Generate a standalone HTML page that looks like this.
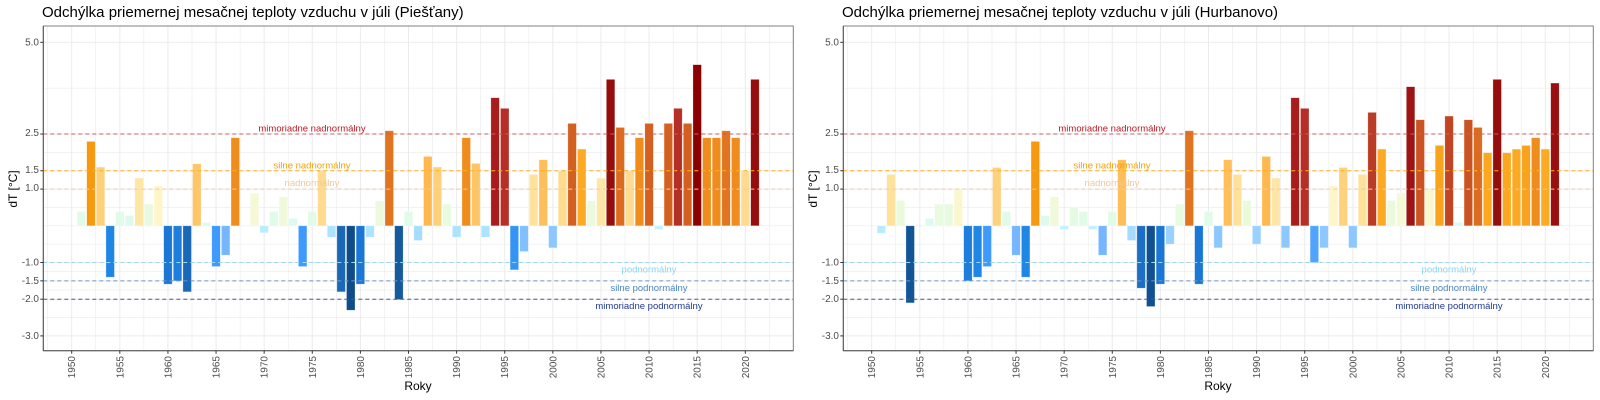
<!DOCTYPE html>
<html><head><meta charset="utf-8"><style>
html,body{margin:0;padding:0;background:#fff;width:1600px;height:400px;overflow:hidden}
svg{display:block;font-family:"Liberation Sans",Arial,sans-serif}
</style></head><body>
<svg id="s" width="1600" height="400" xmlns="http://www.w3.org/2000/svg">
<rect width="1600" height="400" fill="#fff"/>
<g id="p0"></g>
<g id="p1" transform="translate(800,0)"></g>
<!-- static text, left panel -->
<g font-size="15" fill="#000">
<text x="42" y="17">Odchýlka priemernej mesačnej teploty vzduchu v júli (Piešťany)</text>
<text x="842" y="17">Odchýlka priemernej mesačnej teploty vzduchu v júli (Hurbanovo)</text>
</g>
<g font-size="12" fill="#000" text-anchor="middle">
<text x="418" y="390">Roky</text>
<text x="1218" y="390">Roky</text>
<text transform="translate(17,189) rotate(-90)">dT [°C]</text>
<text transform="translate(817,189) rotate(-90)">dT [°C]</text>
</g>
<g font-size="10" fill="#4d4d4d" text-anchor="end">
<text x="39" y="45.5">5.0</text><text x="39" y="136">2.5</text><text x="39" y="173">1.5</text><text x="39" y="191">1.0</text>
<text x="39" y="265.5">-1.0</text><text x="39" y="284">-1.5</text><text x="39" y="302">-2.0</text><text x="39" y="339">-3.0</text>
<text x="839" y="45.5">5.0</text><text x="839" y="136">2.5</text><text x="839" y="173">1.5</text><text x="839" y="191">1.0</text>
<text x="839" y="265.5">-1.0</text><text x="839" y="284">-1.5</text><text x="839" y="302">-2.0</text><text x="839" y="339">-3.0</text>
</g>
<g font-size="10" fill="#4d4d4d" text-anchor="end">
<text transform="translate(75.2,356) rotate(-90)">1950</text>
<text transform="translate(123.3,356) rotate(-90)">1955</text>
<text transform="translate(171.4,356) rotate(-90)">1960</text>
<text transform="translate(219.5,356) rotate(-90)">1965</text>
<text transform="translate(267.6,356) rotate(-90)">1970</text>
<text transform="translate(315.8,356) rotate(-90)">1975</text>
<text transform="translate(363.9,356) rotate(-90)">1980</text>
<text transform="translate(412.0,356) rotate(-90)">1985</text>
<text transform="translate(460.1,356) rotate(-90)">1990</text>
<text transform="translate(508.2,356) rotate(-90)">1995</text>
<text transform="translate(556.3,356) rotate(-90)">2000</text>
<text transform="translate(604.4,356) rotate(-90)">2005</text>
<text transform="translate(652.5,356) rotate(-90)">2010</text>
<text transform="translate(700.7,356) rotate(-90)">2015</text>
<text transform="translate(748.8,356) rotate(-90)">2020</text>
<text transform="translate(875.2,356) rotate(-90)">1950</text>
<text transform="translate(923.3,356) rotate(-90)">1955</text>
<text transform="translate(971.4,356) rotate(-90)">1960</text>
<text transform="translate(1019.5,356) rotate(-90)">1965</text>
<text transform="translate(1067.6,356) rotate(-90)">1970</text>
<text transform="translate(1115.8,356) rotate(-90)">1975</text>
<text transform="translate(1163.9,356) rotate(-90)">1980</text>
<text transform="translate(1212.0,356) rotate(-90)">1985</text>
<text transform="translate(1260.1,356) rotate(-90)">1990</text>
<text transform="translate(1308.2,356) rotate(-90)">1995</text>
<text transform="translate(1356.3,356) rotate(-90)">2000</text>
<text transform="translate(1404.4,356) rotate(-90)">2005</text>
<text transform="translate(1452.5,356) rotate(-90)">2010</text>
<text transform="translate(1500.7,356) rotate(-90)">2015</text>
<text transform="translate(1548.8,356) rotate(-90)">2020</text>
</g>
<g id="labels" font-size="9.5" text-anchor="middle">
<text x="312" y="131.5" fill="#c0161f">mimoriadne nadnormálny</text>
<text x="312" y="168.5" fill="#f5a000">silne nadnormálny</text>
<text x="312" y="186" fill="#f2c89b">nadnormálny</text>
<text x="649" y="272.5" fill="#8fd3ef">podnormálny</text>
<text x="649" y="291" fill="#4a86c0">silne podnormálny</text>
<text x="649" y="309" fill="#1f3a93">mimoriadne podnormálny</text>
<text x="1112" y="131.5" fill="#c0161f">mimoriadne nadnormálny</text>
<text x="1112" y="168.5" fill="#f5a000">silne nadnormálny</text>
<text x="1112" y="186" fill="#f2c89b">nadnormálny</text>
<text x="1449" y="272.5" fill="#8fd3ef">podnormálny</text>
<text x="1449" y="291" fill="#4a86c0">silne podnormálny</text>
<text x="1449" y="309" fill="#1f3a93">mimoriadne podnormálny</text>
</g>
</svg>
<script>
var NS="http://www.w3.org/2000/svg";
var L=43.3,R=793.3,T=26,B=350.7,Z=225.8,K=36.7;
function yv(v){return Z-v*K;}
function xy(y){return 71.7+9.623*(y-1950);}
var A=[0.39,2.30,1.60,-1.40,0.39,0.28,1.30,0.59,1.09,-1.59,-1.50,-1.80,1.69,0.09,-1.11,-0.80,2.40,0,0.89,-0.19,0.39,0.79,0.20,-1.11,0.39,1.50,-0.31,-1.80,-2.30,-1.59,-0.31,0.68,2.59,-2.01,0.39,-0.40,1.89,1.60,0.59,-0.31,2.40,1.70,-0.31,3.49,3.20,-1.20,-0.70,1.40,1.80,-0.60,1.50,2.79,2.09,0.68,1.30,3.99,2.68,1.50,2.40,2.79,-0.10,2.79,3.20,2.79,4.39,2.40,2.40,2.59,2.40,1.50,3.99];
var Bv=[-0.20,1.40,0.69,-2.10,0,0.20,0.59,0.59,0.99,-1.50,-1.40,-1.11,1.59,0.39,-0.80,-1.40,2.30,0.28,0.79,-0.10,0.50,0.39,-0.10,-0.80,0.39,1.80,-0.40,-1.70,-2.20,-1.59,-0.50,0.59,2.59,-1.59,0.39,-0.60,1.80,1.40,0.69,-0.50,1.89,1.30,-0.60,3.49,3.20,-1.00,-0.60,1.09,1.59,-0.60,1.40,3.09,2.09,0.69,0.89,3.79,2.89,0.99,2.19,2.99,0.09,2.89,2.68,1.99,3.99,1.99,2.09,2.19,2.40,2.09,3.89];
var PS=[[0,"#d6fcf7"],[0.3,"#ddfbec"],[0.6,"#e8fadf"],[0.9,"#f5f9d5"],[1.1,"#fff5c8"],[1.3,"#fee6a6"],[1.5,"#fedb8f"],[1.7,"#fec566"],[1.9,"#fdb84e"],[2.0,"#fca518"],[2.1,"#fca925"],[2.3,"#f6990f"],[2.4,"#ef8c1c"],[2.6,"#e0741f"],[2.8,"#d35f20"],[3.0,"#c04423"],[3.2,"#b62f26"],[3.5,"#a81c1c"],[4.0,"#960d0d"],[4.4,"#8b0000"]];
var NSt=[[0,"#cdf8ff"],[0.2,"#b5ecff"],[0.4,"#a5dcff"],[0.6,"#8cc8ff"],[0.8,"#75b6ff"],[1.1,"#3f9bfd"],[1.4,"#1e86e5"],[1.6,"#1b76d4"],[1.8,"#1a68b8"],[2.0,"#145a9e"],[2.3,"#0f4c8a"]];
function h2(h){return [parseInt(h.substr(1,2),16),parseInt(h.substr(3,2),16),parseInt(h.substr(5,2),16)];}
function col(v){var s=v>=0?PS:NSt,a=Math.abs(v);
 if(a<=s[0][0])return s[0][1];
 for(var i=1;i<s.length;i++){if(a<=s[i][0]){var t=(a-s[i-1][0])/(s[i][0]-s[i-1][0]),c1=h2(s[i-1][1]),c2=h2(s[i][1]);
  return "rgb("+c1.map(function(c,j){return Math.round(c+(c2[j]-c)*t);}).join(",")+")";}}
 return s[s.length-1][1];}
function el(g,n,at){var e=document.createElementNS(NS,n);for(var k in at)e.setAttribute(k,at[k]);g.appendChild(e);return e;}
function panel(g,D){
 // minor/major gridlines
 var hy=[5,3.75,2.5,2,1.5,1,0.5,0,-0.5,-1,-1.25,-1.5,-1.75,-2,-2.5,-3];
 hy.forEach(function(v){el(g,"line",{x1:L,x2:R,y1:yv(v),y2:yv(v),stroke:"#ebebeb","stroke-width":(v==5||v==2.5||v==1.5||v==1||v==-1||v==-1.5||v==-2||v==-3)?1:0.6});});
 for(var y=1947.5;y<=2024;y+=2.5){var x=xy(y);el(g,"line",{x1:x,x2:x,y1:T,y2:B,stroke:"#ebebeb","stroke-width":(y%5==0)?1:0.6});}
 // bars
 D.forEach(function(v,i){if(v==0)return;var x=xy(1951+i)-4.25;var y0=v>0?yv(v):Z;
  el(g,"rect",{x:x,y:y0,width:8.5,height:Math.abs(v)*K,fill:col(v),stroke:"rgba(255,255,255,0.45)","stroke-width":0.6});});
 // ref lines
 [[2.5,"#cd5c5c"],[1.5,"#ffb020"],[1,"#f3c9a0"],[-1,"#9ad8ef"],[-1.5,"#6f98c4"],[-2,"#4a5a9a"]].forEach(function(r){
  el(g,"line",{x1:L,x2:R,y1:yv(r[0]),y2:yv(r[0]),stroke:r[1],"stroke-width":1,"stroke-dasharray":"4,3"});});
 // frame
 el(g,"rect",{x:L,y:T,width:R-L,height:B-T,fill:"none",stroke:"#7f7f7f","stroke-width":1});
 el(g,"line",{x1:L,x2:L,y1:T,y2:B,stroke:"#555","stroke-width":1});
 el(g,"line",{x1:L,x2:R,y1:B,y2:B,stroke:"#555","stroke-width":1});
 [5,2.5,1.5,1,-1,-1.5,-2,-3].forEach(function(v){el(g,"line",{x1:L-3,x2:L,y1:yv(v),y2:yv(v),stroke:"#333"});});
 for(var y=1950;y<=2020;y+=5){var x=xy(y);el(g,"line",{x1:x,x2:x,y1:B,y2:B+3,stroke:"#333"});}
}
panel(document.getElementById("p0"),A);
panel(document.getElementById("p1"),Bv);
</script>
</body></html>
